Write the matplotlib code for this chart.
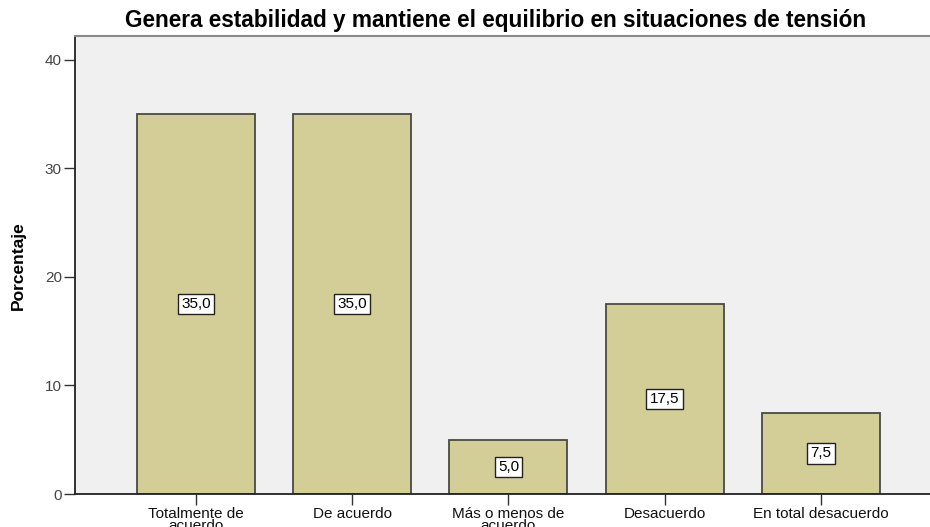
import matplotlib
matplotlib.use("Agg")
import matplotlib.pyplot as plt

plt.rcParams['font.family'] = ['Liberation Sans', 'DejaVu Sans']

categories = ["Totalmente de\nacuerdo", "De acuerdo", "Más o menos de\nacuerdo",
              "Desacuerdo", "En total desacuerdo"]
percentages = [35.0, 35.0, 5.0, 17.5, 7.5]
value_labels = ["35,0", "35,0", "5,0", "17,5", "7,5"]
y_ticks = [0, 10, 20, 30, 40]

title = "Genera estabilidad y mantiene el equilibrio en situaciones de tensión"

W, H = 930, 527
fig = plt.figure(figsize=(W / 100, H / 100), dpi=100)
ax = fig.add_axes([75 / W, 33 / H, 1 - 75 / W, 458 / H])
ax.set_facecolor("#F0F0F0")

positions = list(range(len(categories)))
ax.bar(positions, percentages, width=0.755, color="#D3CE97",
       edgecolor="#4A4A44", linewidth=1.3, zorder=2)

for x, v, lab in zip(positions, percentages, value_labels):
    ax.text(x, v / 2, lab, ha="center", va="center", fontsize=11,
            color="black", zorder=3,
            bbox=dict(boxstyle="square,pad=0.22", facecolor="white",
                      edgecolor="#222222", linewidth=1.0))

ax.set_xlim(-0.776, 4.70)
ax.set_ylim(0, 42.2)
ax.set_xticks(positions)
ax.set_xticklabels(categories, fontsize=11, linespacing=0.78, color="#111111")
ax.set_yticks(y_ticks)
ax.set_yticklabels([str(t) for t in y_ticks], fontsize=11, color="#444444")
ax.tick_params(axis="both", direction="out", length=8, width=1.0,
               color="#333333", pad=1.5)

ax.spines["right"].set_visible(False)
ax.spines["top"].set_color("#8A8A8A")
ax.spines["top"].set_linewidth(1.5)
for side in ("left", "bottom"):
    ax.spines[side].set_color("#222222")
    ax.spines[side].set_linewidth(1.3)

fig.text(18 / W, 1 - 266 / H, "Porcentaje", rotation=90, ha="center",
         va="center", fontsize=12.5, fontweight="bold",
         family=["Liberation Sans Narrow", "Liberation Sans", "DejaVu Sans"])
fig.text(496 / W, 1 - 20 / H, title, ha="center", va="center",
         fontsize=16.3, fontweight="bold")

fig.savefig("out.png", dpi=100)
